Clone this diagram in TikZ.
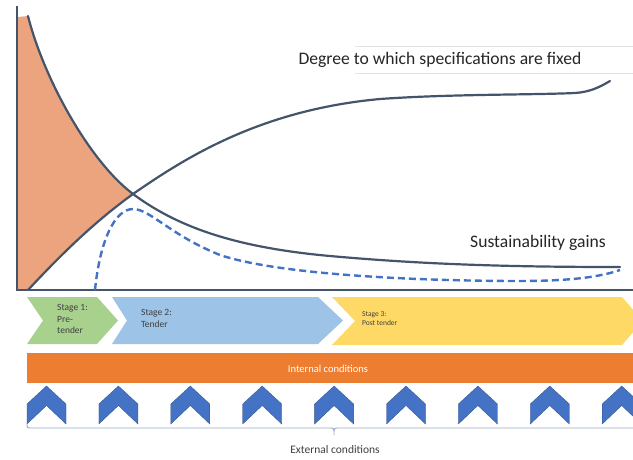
\documentclass[tikz,border=0pt]{standalone}
\usepackage{fontspec}
\setmainfont{Carlito}
\definecolor{curvecol}{HTML}{44546A}
\definecolor{fillcol}{HTML}{EBA47E}
\definecolor{dashcol}{HTML}{4472C4}
\definecolor{greencol}{HTML}{A9D18E}
\definecolor{bluecol}{HTML}{9DC3E6}
\definecolor{yellowcol}{HTML}{FFD966}
\definecolor{orangecol}{HTML}{ED7D31}
\definecolor{chevcol}{HTML}{4472C4}
\definecolor{bracecol}{HTML}{9AABC6}
\definecolor{txtcol}{HTML}{404040}
\definecolor{bigtxtcol}{HTML}{262626}
\begin{document}
\begin{tikzpicture}[x=1pt,y=-1pt,
  curveline/.style={draw=curvecol,line width=2.2pt,line cap=round},
  dashline/.style={draw=dashcol,line width=2.4pt,dash pattern=on 7pt off 4pt},
  stagetext/.style={anchor=north west,inner sep=0pt,align=left,text=txtcol,font=\fontsize{9.5}{11.5}\selectfont},
  bigtext/.style={inner sep=0pt,text=bigtxtcol,font=\fontsize{17.6}{20}\selectfont},
  chevron/.style={fill=chevcol,draw=chevcol!70!black,line width=0.3pt}]
\useasboundingbox (0,0) rectangle (633,459);
\clip (0,0) rectangle (633,459);
\fill[white] (0,0) rectangle (633,459);
% faint text box lines
\draw[gray!22,line width=0.6pt] (355,46) -- (633,46);
\draw[gray!22,line width=0.6pt] (355,73) -- (633,73);
% orange filled area
\fill[fillcol] (18,17) -- (28,16) .. controls (43,76) and (88,160) .. (133,194)
  .. controls (100,218) and (70,245) .. (28,290) -- (18,290) -- cycle;
% axes
\draw[curvecol,line width=2.2pt] (17,6) -- (17,290) -- (640,290);
% decreasing curve: sustainability gains
\draw[curveline] (28,16) .. controls (43,76) and (88,160) .. (133,194)
  .. controls (175,225) and (230,247) .. (330,256)
  .. controls (430,265) and (520,267) .. (620,267);
% increasing curve: degree specifications fixed
\draw[curveline] (28,290) .. controls (70,245) and (100,218) .. (133,194)
  .. controls (185,158) and (260,110) .. (380,99)
  .. controls (450,94) and (530,95) .. (575,93)
  .. controls (590,92) and (600,87) .. (610,81);
% dashed curve
\draw[dashline] (95,290) .. controls (100,240) and (115,209) .. (133,209)
  .. controls (150,209) and (170,235) .. (220,255)
  .. controls (280,275) and (420,281) .. (520,281)
  .. controls (570,281) and (600,277) .. (620,270);
% labels
\node[bigtext] (deg) at (440,60) {Degree to which specifications are fixed};
\node[bigtext] (sus) at (538,243) {Sustainability gains};
% stage arrows
\fill[greencol] (27,297) -- (97,297) -- (118,320.5) -- (97,344) -- (27,344) -- (43,320.5) -- cycle;
\fill[bluecol] (112,297) -- (318,297) -- (343,320.5) -- (318,344) -- (112,344) -- (127,320.5) -- cycle;
\fill[yellowcol] (332,297) -- (622,297) -- (643,321) -- (622,345) -- (332,345) -- (355,321) -- cycle;
\node[stagetext] (s1) at (57,304.5) {Stage 1:\\Pre-\\tender};
\node[stagetext] (s2) at (141,309.5) {Stage 2:\\Tender};
\node[stagetext,font=\fontsize{7.5}{9}\selectfont] (s3) at (362,311) {Stage 3:\\Post tender};
% internal conditions bar
\fill[orangecol] (27,353) rectangle (640,383);
\node[inner sep=0pt,text=white,font=\fontsize{10.5}{12}\selectfont] (int) at (328,368.5) {Internal conditions};
% chevrons
\foreach \cx in {46.5,118.4,190.3,262.2,334.1,406,477.9,549.8,621.7}{
  \path[chevron] (\cx-19.5,404) -- (\cx,386) -- (\cx+19.5,404) -- (\cx+19.5,424) -- (\cx,405.5) -- (\cx-19.5,424) -- cycle;
}
% brace
\draw[bracecol,line width=0.9pt] (27,423) .. controls (27,428) .. (31,428) -- (330,428) .. controls (334,428) .. (334,435) .. controls (334,428) .. (338,428) -- (640,428);
\node[inner sep=0pt,text=txtcol,font=\fontsize{11.5}{13}\selectfont] (ext) at (335,450) {External conditions};
\end{tikzpicture}
\end{document}
